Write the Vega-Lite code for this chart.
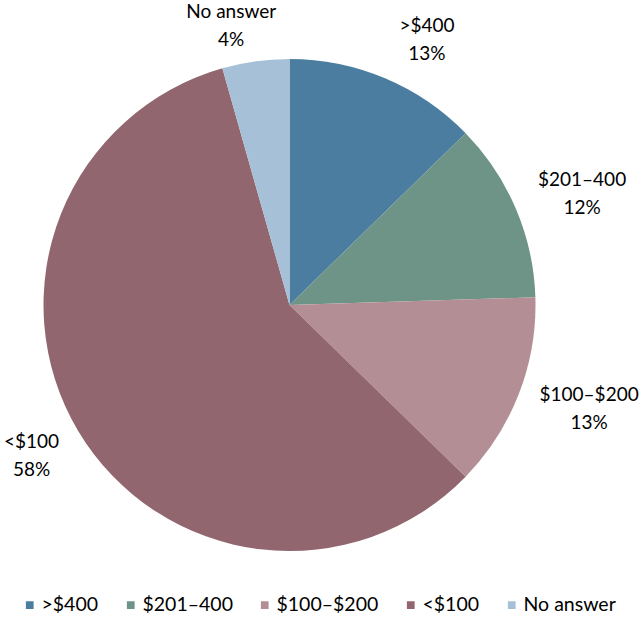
{
  "$schema": "https://vega.github.io/schema/vega-lite/v6.json",
  "width": 579,
  "height": 610,
  "padding": {"left": 0, "top": 0, "right": 65, "bottom": 11},
  "autosize": {"type": "none"},
  "background": "white",
  "data": {
    "values": [
      {"cat": ">$400", "value": 12.7, "pct": "13%", "ord": 1},
      {"cat": "$201–400", "value": 11.8, "pct": "12%", "ord": 2},
      {"cat": "$100–$200", "value": 12.8, "pct": "13%", "ord": 3},
      {"cat": "<$100", "value": 58.3, "pct": "58%", "ord": 4},
      {"cat": "No answer", "value": 4.4, "pct": "4%", "ord": 5}
    ]
  },
  "transform": [
    {"stack": "value", "groupby": [], "sort": [{"field": "ord", "order": "ascending"}], "as": ["v0", "v1"]},
    {"calculate": "(datum.v0 + datum.v1) / 2", "as": "mid"},
    {"calculate": "datum.cat + '\\n' + datum.pct", "as": "lbl"}
  ],
  "layer": [
    {
      "mark": {"type": "arc", "outerRadius": 246, "strokeWidth": 0},
      "encoding": {
        "theta": {"field": "v0", "type": "quantitative", "scale": {"domain": [0, 100]}},
        "theta2": {"field": "v1"},
        "color": {
          "field": "cat",
          "type": "nominal",
          "sort": [">$400", "$201–400", "$100–$200", "<$100", "No answer"],
          "scale": {
            "domain": [">$400", "$201–400", "$100–$200", "<$100", "No answer"],
            "range": ["#4B7DA0", "#6E9387", "#B38F95", "#92666F", "#A6C0D7"]
          },
          "legend": {
            "orient": "none",
            "legendX": 20,
            "legendY": 595,
            "direction": "horizontal",
            "title": null,
            "symbolType": "square",
            "symbolSize": 60,
            "symbolStrokeWidth": 0,
            "labelFontSize": 19.5,
            "labelFont": "Lato",
            "labelColor": "#000000",
            "columnPadding": 22,
            "labelOffset": 2
          }
        }
      }
    },
    {
      "transform": [{"filter": "datum.cat === '>$400'"}],
      "mark": {"type": "text", "radius": 256, "dx": 38, "dy": -43, "fontSize": 19, "lineHeight": 28, "lineBreak": "\n", "font": "Lato", "color": "#000000", "align": "center", "baseline": "middle"},
      "encoding": {"theta": {"field": "mid", "type": "quantitative", "scale": {"domain": [0, 100]}}, "text": {"field": "lbl", "type": "nominal"}}
    },
    {
      "transform": [{"filter": "datum.cat === '$201–400'"}],
      "mark": {"type": "text", "radius": 256, "dx": 57, "dy": -25, "fontSize": 19, "lineHeight": 28, "lineBreak": "\n", "font": "Lato", "color": "#000000", "align": "center", "baseline": "middle"},
      "encoding": {"theta": {"field": "mid", "type": "quantitative", "scale": {"domain": [0, 100]}}, "text": {"field": "lbl", "type": "nominal"}}
    },
    {
      "transform": [{"filter": "datum.cat === '$100–$200'"}],
      "mark": {"type": "text", "radius": 256, "dx": 61, "dy": -3, "fontSize": 19, "lineHeight": 28, "lineBreak": "\n", "font": "Lato", "color": "#000000", "align": "center", "baseline": "middle"},
      "encoding": {"theta": {"field": "mid", "type": "quantitative", "scale": {"domain": [0, 100]}}, "text": {"field": "lbl", "type": "nominal"}}
    },
    {
      "transform": [{"filter": "datum.cat === '<$100'"}],
      "mark": {"type": "text", "radius": 256, "dx": -38, "dy": 6, "fontSize": 19, "lineHeight": 28, "lineBreak": "\n", "font": "Lato", "color": "#000000", "align": "center", "baseline": "middle"},
      "encoding": {"theta": {"field": "mid", "type": "quantitative", "scale": {"domain": [0, 100]}}, "text": {"field": "lbl", "type": "nominal"}}
    },
    {
      "transform": [{"filter": "datum.cat === 'No answer'"}],
      "mark": {"type": "text", "radius": 256, "dx": -23, "dy": -39, "fontSize": 19, "lineHeight": 28, "lineBreak": "\n", "font": "Lato", "color": "#000000", "align": "center", "baseline": "middle"},
      "encoding": {"theta": {"field": "mid", "type": "quantitative", "scale": {"domain": [0, 100]}}, "text": {"field": "lbl", "type": "nominal"}}
    }
  ]
}
